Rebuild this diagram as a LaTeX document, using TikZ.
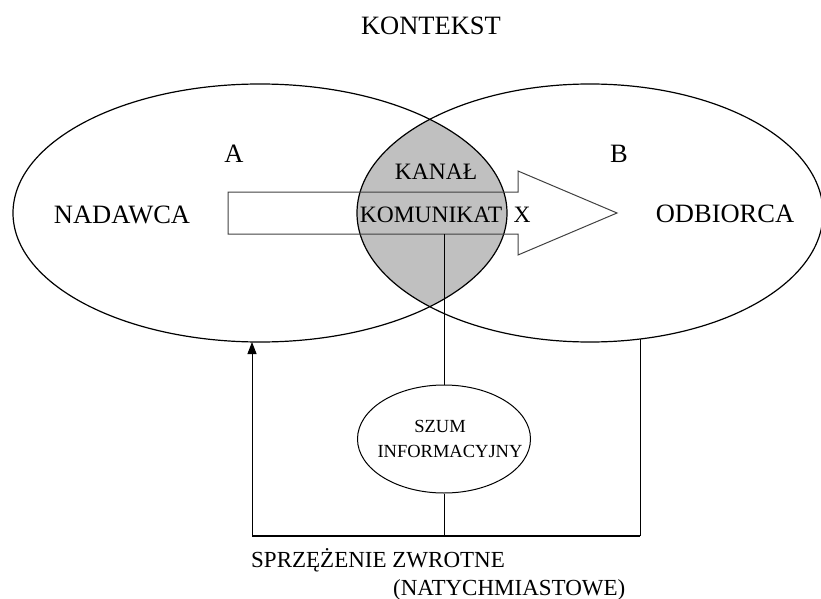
\documentclass[tikz,border=0pt]{standalone}
\usepackage{fontspec}
\setmainfont{Liberation Serif}
\usetikzlibrary{shapes.geometric,arrows.meta}
\definecolor{lensgray}{RGB}{192,192,192}
\begin{document}
\begin{tikzpicture}[x=1pt,y=-1pt,
  big/.style={font=\fontsize{26.5}{30}\selectfont, inner sep=0pt, anchor=base},
  mid/.style={font=\fontsize{23.5}{27}\selectfont, inner sep=0pt, anchor=base},
  small/.style={font=\fontsize{18.5}{21}\selectfont, inner sep=0pt, anchor=base},
  low/.style={font=\fontsize{23}{27}\selectfont, inner sep=0pt, anchor=base west},
  oval/.style={ellipse, draw, line width=1.2pt, inner sep=0pt},
  conn/.style={line width=1pt}]
\useasboundingbox (0,0) rectangle (821,599);
\clip (0,0) rectangle (821,599);
% lens (channel)
\begin{scope}
  \clip (260,213) ellipse [x radius=247pt, y radius=129pt];
  \fill[lensgray] (590,213) ellipse [x radius=233pt, y radius=129pt];
\end{scope}
% sender / receiver ovals
\node[oval, minimum width=494pt, minimum height=258pt] (L) at (260,213) {};
\node[oval, minimum width=466pt, minimum height=258pt] (R) at (590,213) {};
% message arrow
\draw[conn, draw=black!75] (228,192) -- (518,192) -- (518,171) -- (617,213)
  -- (518,255) -- (518,234) -- (228,234) -- cycle;
% texts
\node[big] (kontekst) at (431,35) {KONTEKST};
\node[big] (a) at (234,162) {A};
\node[big] (b) at (619,162) {B};
\node[big] (nad) at (122,223) {NADAWCA};
\node[big] (odb) at (725,222) {ODBIORCA};
\node[mid] (kanal) at (436,179) {KANAŁ};
\node[mid] (kom) at (431,222) {KOMUNIKAT};
\node[mid] (xx) at (522,222) {X};
% noise
\node[ellipse, draw, line width=1pt, inner sep=0pt, minimum width=173pt, minimum height=108pt] (szum) at (444,439) {};
\node[small] (szumt) at (440,432) {SZUM};
\node[small] (info) at (450,457) {INFORMACYJNY};
% feedback
\coordinate (shaftbot) at (444,234);
\coordinate (fbL) at (252,536);
\coordinate (fbM) at (444,536);
\coordinate (fbR) at (640,536);
\coordinate (lend) at (252,342);
\coordinate (rend) at (640,339);
\draw[conn] (shaftbot) -- (szum.north);
\draw[conn] (szum.south) -- (fbM);
\draw[line width=2pt] (fbL) -- (fbR);
\draw[conn] (fbR) -- (rend);
\draw[conn, -{Triangle[length=12pt,width=9pt]}] (fbL) -- (lend);
\node[low] (sprz) at (251,567) {SPRZĘŻENIE ZWROTNE};
\node[low] (natych) at (393,595) {(NATYCHMIASTOWE)};
\end{tikzpicture}
\end{document}
